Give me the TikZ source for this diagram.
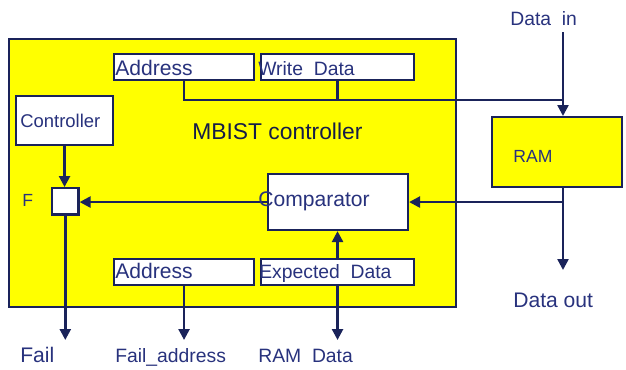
\documentclass[tikz,border=0pt]{standalone}
\usepackage{fontspec}
\setmainfont{Liberation Sans}
\usetikzlibrary{arrows.meta,positioning}
\definecolor{navy}{RGB}{26,35,90}
\definecolor{inkblue}{RGB}{40,50,125}
\definecolor{chipyellow}{RGB}{255,255,0}

\begin{document}
\begin{tikzpicture}[x = 0.02cm, y = -0.02cm,
  box/.style = {draw = navy, line width = 1.2pt, anchor = north west, inner sep = 0pt},
  field/.style = {box, fill = white, minimum height = 0.52cm},
  lbl/.style = {anchor = base west, inner sep = 0pt, text = inkblue, font = \fontsize{11}{13}\selectfont},
  wire/.style = {draw = navy, line width = 1.4pt},
  arrow/.style = {wire, -{Triangle[length = 0.22cm, width = 0.22cm]}}]
\useasboundingbox (0,0) rectangle (626,369);
\node[box, fill = chipyellow, minimum width = 8.94cm, minimum height = 5.36cm] (mbist) at (8,38) {};
\node[box, fill = chipyellow, minimum width = 2.6cm, minimum height = 1.4cm] (ram) at (491,116) {};
\node[field, minimum width = 2.8cm] (addrtop) at (113,53) {};
\node[field, minimum width = 3.06cm] (wdata) at (260,53) {};
\node[box, fill = white, minimum width = 1.94cm, minimum height = 0.98cm] (ctrl) at (15,95) {};
\node[box, fill = white, minimum width = 2.8cm, minimum height = 1.12cm] (comp) at (267,173) {};
\node[box, fill = white, minimum size = 0.53cm] (fbox) at (51,187) {};
\node[field, minimum width = 2.8cm] (addrbot) at (113,258) {};
\node[field, minimum width = 3.06cm] (expdata) at (260,258) {};
\coordinate (din) at (563,32);
\coordinate (join) at (563,100);
\coordinate (dout) at (563,270);
\coordinate (bot) at (0,340);
\draw[wire] (addrtop.south) |- (join);
\draw[wire] (wdata.south) -- (wdata.south |- join);
\draw[arrow] (din) -- (din |- ram.north);
\draw[arrow] (din |- ram.south) -- (dout);
\draw[arrow] (din |- comp.east) -- (comp.east);
\draw[arrow] (comp.west) -- (comp.west -| fbox.east);
\draw[arrow] (ctrl.south) -- (ctrl.south |- fbox.north);
\draw[arrow] (fbox.south) -- (fbox.south |- bot);
\draw[arrow] (addrbot.south) -- (addrbot.south |- bot);
\draw[arrow] (expdata.north) -- (expdata.north |- comp.south);
\draw[arrow] (expdata.south) -- (expdata.south |- bot);
\node[lbl] at (510,25) {Data\ \ in};
\node[lbl, font = \fontsize{12}{14}\selectfont] at (115,75) {Address};
\node[lbl] at (258,75) {Write\ \ Data};
\node[lbl, font = \fontsize{10.5}{12}\selectfont] at (20,127) {Controller};
\node[lbl, text = navy!80!black, font = \fontsize{13}{15}\selectfont] at (192,139) {MBIST controller};
\node[lbl, font = \fontsize{10}{12}\selectfont] at (513,162) {RAM};
\node[lbl, font = \fontsize{10}{12}\selectfont] at (22,206) {F};
\node[lbl, font = \fontsize{12}{14}\selectfont] at (258,206) {Comparator};
\node[lbl, font = \fontsize{12}{14}\selectfont] at (115,278) {Address};
\node[lbl] at (259,278) {Expected\ \ Data};
\node[lbl, font = \fontsize{12}{14}\selectfont] at (513,307) {Data out};
\node[lbl, font = \fontsize{12}{14}\selectfont] at (20,362) {Fail};
\node[lbl] at (115,362) {Fail\_address};
\node[lbl] at (258,362) {RAM\ \ Data};
\end{tikzpicture}
\end{document}
